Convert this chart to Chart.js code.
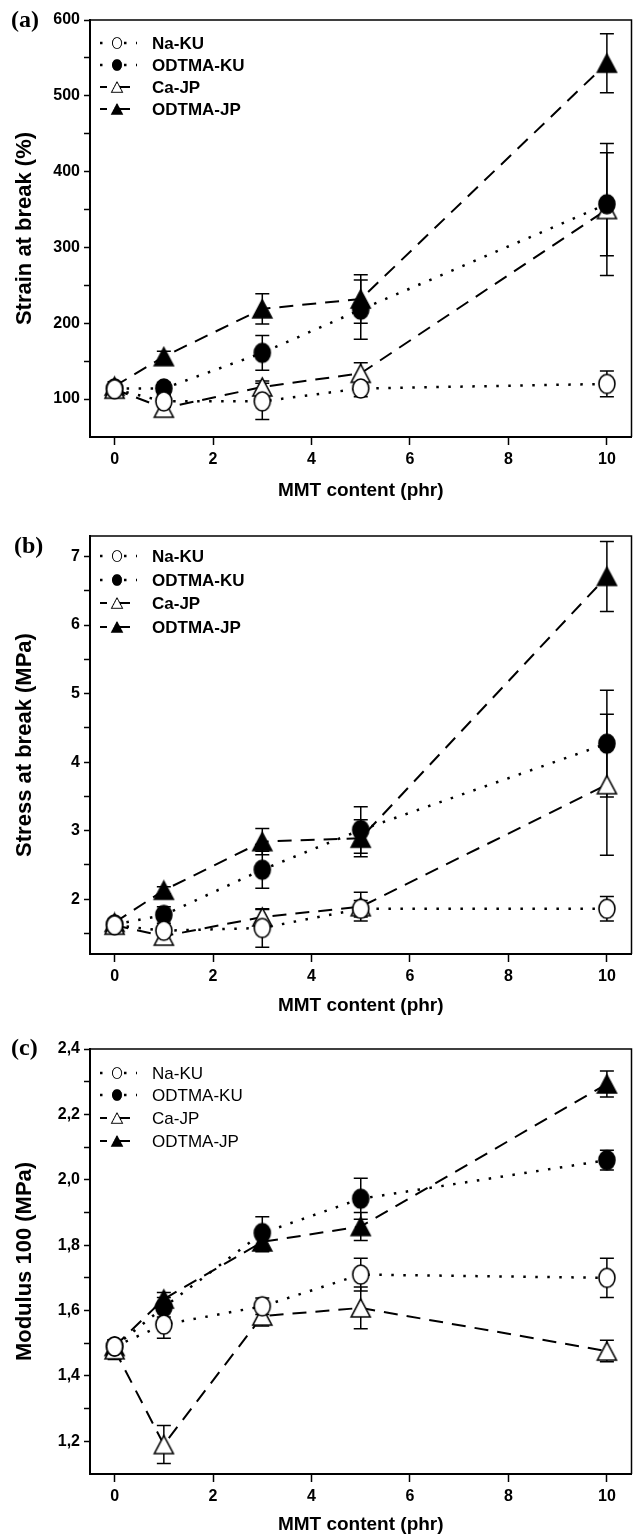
<!DOCTYPE html>
<html><head><meta charset="utf-8">
<script src="https://cdn.jsdelivr.net/npm/chart.js@4.4.0/dist/chart.umd.min.js"></script>
<style>
html,body{margin:0;padding:0;background:#fff;}
#wrap{position:relative;width:643px;height:1536px;overflow:hidden;background:#fff;}
canvas{position:absolute;left:0;}
</style></head><body><div id="wrap">
<canvas id="ca" width="643" height="510" style="top:0px;width:643px;height:510px"></canvas>
<canvas id="cb" width="643" height="530" style="top:500px;width:643px;height:530px"></canvas>
<canvas id="cc" width="643" height="516" style="top:1020px;width:643px;height:516px"></canvas>
</div>
<script>
// ---------- data ----------
const mmt = [0, 1, 3, 5, 10];
const seriesNames = ['Na-KU', 'ODTMA-KU', 'Ca-JP', 'ODTMA-JP'];
const xTicks = [0, 2, 4, 6, 8, 10];

// (a) Strain at break (%)
const strainNaKU       = [113, 97, 97, 114, 120];
const strainNaKUErr    = [5, 7, 24, 11, 17];
const strainOdtmaKU    = [114, 114, 161, 218, 357];
const strainOdtmaKUErr = [5, 8, 23, 39, 68];
const strainCaJP       = [113, 88, 116, 134, 350];
const strainCaJPErr    = [5, 6, 8, 14, 87];
const strainOdtmaJP    = [117, 156, 219, 232, 543];
const strainOdtmaJPErr = [6, 7, 20, 32, 39];
const strainTicks      = [100, 150, 200, 250, 300, 350, 400, 450, 500, 550, 600];
const strainTickLabels = ['100', '', '200', '', '300', '', '400', '', '500', '', '600'];

// (b) Stress at break (MPa)
const stressNaKU       = [1.62, 1.54, 1.58, 1.86, 1.86];
const stressNaKUErr    = [0.05, 0.07, 0.28, 0.12, 0.18];
const stressOdtmaKU    = [1.63, 1.77, 2.43, 3.01, 4.27];
const stressOdtmaKUErr = [0.05, 0.12, 0.27, 0.34, 0.78];
const stressCaJP       = [1.62, 1.46, 1.74, 1.89, 3.67];
const stressCaJPErr    = [0.05, 0.06, 0.11, 0.21, 1.03];
const stressOdtmaJP    = [1.66, 2.13, 2.84, 2.89, 6.71];
const stressOdtmaJPErr = [0.05, 0.05, 0.19, 0.27, 0.51];
const stressTicks      = [1.5, 2, 2.5, 3, 3.5, 4, 4.5, 5, 5.5, 6, 6.5, 7];
const stressTickLabels = ['', '2', '', '3', '', '4', '', '5', '', '6', '', '7'];

// (c) Modulus 100 (MPa)
const modNaKU       = [1.49, 1.557, 1.613, 1.71, 1.70];
const modNaKUErr    = [0.02, 0.042, 0.025, 0.05, 0.06];
const modOdtmaKU    = [1.49, 1.61, 1.837, 1.942, 2.06];
const modOdtmaKUErr = [0.02, 0.03, 0.05, 0.063, 0.03];
const modCaJP       = [1.48, 1.19, 1.583, 1.608, 1.476];
const modCaJPErr    = [0.03, 0.058, 0.03, 0.064, 0.033];
const modOdtmaJP    = [1.49, 1.635, 1.81, 1.857, 2.293];
const modOdtmaJPErr = [0.02, 0.02, 0.03, 0.043, 0.04];
const modTicks      = [1.2, 1.3, 1.4, 1.5, 1.6, 1.7, 1.8, 1.9, 2.0, 2.1, 2.2, 2.3, 2.4];
const modTickLabels = ['1,2', '', '1,4', '', '1,6', '', '1,8', '', '2,0', '', '2,2', '', '2,4'];

// ---------- styling ----------
const FAM = "'Liberation Sans', Arial, sans-serif";
function marker(shape, filled, w, h) {
  const pad = 2, c = document.createElement('canvas');
  c.width = w + pad * 2; c.height = h + pad * 2;
  const g = c.getContext('2d');
  g.lineWidth = 1.6; g.strokeStyle = '#000'; g.fillStyle = filled ? '#000' : '#fff';
  g.beginPath();
  if (shape === 'circle') g.ellipse(c.width / 2, c.height / 2, w / 2, h / 2, 0, 0, Math.PI * 2);
  else { g.moveTo(c.width / 2, pad); g.lineTo(pad + w, pad + h); g.lineTo(pad, pad + h); g.closePath(); }
  g.fill(); g.stroke();
  return c;
}
const styles = [
  { dash: [2.5, 9.5], width: 2.5, legendOffset: 0, marker: marker('circle', false, 16, 19) },
  { dash: [2.5, 9.5], width: 2.5, legendOffset: 0, marker: marker('circle', true, 16, 19) },
  { dash: [14, 9], width: 2, legendOffset: 7, marker: marker('tri', false, 19, 18) },
  { dash: [14, 9], width: 2, legendOffset: 7, marker: marker('tri', true, 19, 18) }
];

const errorBarPlugin = {
  id: 'errorBars',
  beforeDatasetsDraw(chart) {
    const ctx = chart.ctx, xs = chart.scales.x, ys = chart.scales.y;
    ctx.save(); ctx.strokeStyle = '#000'; ctx.lineWidth = 1.5; ctx.setLineDash([]);
    chart.data.datasets.forEach(ds => {
      ds.data.forEach((p, i) => {
        const e = ds.errors[i];
        const px = xs.getPixelForValue(p.x);
        const t = ys.getPixelForValue(p.y + e), b = ys.getPixelForValue(p.y - e);
        ctx.beginPath();
        ctx.moveTo(px, t); ctx.lineTo(px, b);
        ctx.moveTo(px - 7, t); ctx.lineTo(px + 7, t);
        ctx.moveTo(px - 7, b); ctx.lineTo(px + 7, b);
        ctx.stroke();
      });
    });
    ctx.restore();
  }
};

const decorPlugin = {
  id: 'decor',
  afterDraw(chart, args, opts) {
    const ctx = chart.ctx, a = chart.chartArea;
    ctx.save();
    ctx.strokeStyle = '#000'; ctx.fillStyle = '#000'; ctx.lineWidth = 1.5; ctx.setLineDash([]);
    ctx.beginPath(); ctx.moveTo(a.left, a.top); ctx.lineTo(a.right, a.top); ctx.lineTo(a.right, a.bottom); ctx.stroke();
    ctx.font = "bold 24px 'Liberation Serif', 'Times New Roman', serif";
    ctx.textBaseline = 'middle'; ctx.textAlign = 'left';
    ctx.fillText(opts.panel, opts.panelX, opts.panelY);
    chart.data.datasets.forEach((ds, k) => {
      const y = opts.legendY[k];
      ctx.lineWidth = ds.borderWidth; ctx.setLineDash(ds.borderDash);
      ctx.lineDashOffset = styles[k].legendOffset;
      ctx.beginPath(); ctx.moveTo(100, y); ctx.lineTo(137, y); ctx.stroke();
      ctx.setLineDash([]); ctx.lineDashOffset = 0;
      const m = ds.pointStyle, s = 0.58;
      ctx.drawImage(m, 117 - m.width * s / 2, y - m.height * s / 2, m.width * s, m.height * s);
      ctx.font = opts.legendFont;
      ctx.fillText(ds.label, 152, y + 1);
    });
    ctx.restore();
  }
};

function buildChart(id, cfg) {
  const H = cfg.height;
  const datasets = cfg.series.map((s, k) => ({
    label: seriesNames[k],
    data: mmt.map((x, i) => ({ x: x, y: s[0][i] })),
    errors: s[1],
    showLine: true,
    borderColor: '#000', backgroundColor: '#000',
    borderWidth: styles[k].width, borderDash: styles[k].dash,
    pointStyle: styles[k].marker, pointRadius: 9, pointHoverRadius: 9,
    tension: 0, fill: false
  }));
  return new Chart(document.getElementById(id), {
    type: 'scatter',
    data: { datasets },
    plugins: [errorBarPlugin, decorPlugin],
    options: {
      responsive: false, animation: false, devicePixelRatio: 1,
      layout: { padding: { top: cfg.plotTop, right: cfg.right, left: 0, bottom: 0 } },
      plugins: {
        legend: { display: false }, tooltip: { enabled: false },
        decor: { panel: cfg.panel, panelX: cfg.panelX, panelY: cfg.panelY, legendY: cfg.legendY, legendFont: cfg.legendFont }
      },
      scales: {
        x: {
          type: 'linear', min: -0.5, max: 10.5,
          afterBuildTicks: sc => { sc.ticks = xTicks.map(v => ({ value: v })); },
          afterFit: sc => { sc.height = H - cfg.plotBottom; },
          ticks: { font: { family: FAM, weight: 'bold', size: 16 }, color: '#000', padding: 5, maxRotation: 0, autoSkip: false, callback: v => String(v) },
          grid: { drawOnChartArea: false, drawTicks: true, tickLength: 8, color: '#000', tickColor: '#000', tickWidth: 1.5 },
          border: { display: true, color: '#000', width: 2 },
          title: { display: true, text: 'MMT content (phr)', color: '#000', font: { family: FAM, weight: 'bold', size: 19 }, padding: { top: 0, bottom: cfg.xTitlePad } }
        },
        y: {
          type: 'linear', min: cfg.yMin, max: cfg.yMax,
          afterBuildTicks: sc => { sc.ticks = cfg.ticks.map(v => ({ value: v })); },
          afterFit: sc => { sc.width = 90; },
          ticks: { font: { family: FAM, weight: 'bold', size: 16 }, color: '#000', padding: 4, autoSkip: false, callback: (v, i) => cfg.tickLabels[i] },
          grid: { drawOnChartArea: false, drawTicks: true, tickLength: 6, color: '#000', tickColor: '#000', tickWidth: 1.5 },
          border: { display: true, color: '#000', width: 2 },
          title: { display: true, text: cfg.yTitle, color: '#000', font: { family: FAM, weight: 'bold', size: 22 }, padding: { top: 12, bottom: 0 } }
        }
      }
    }
  });
}

buildChart('ca', {
  height: 510, plotTop: 20, plotBottom: 437, right: 8, xTitlePad: 8,
  yMin: 50, yMax: 600, ticks: strainTicks, tickLabels: strainTickLabels, yTitle: 'Strain at break (%)',
  series: [[strainNaKU, strainNaKUErr], [strainOdtmaKU, strainOdtmaKUErr], [strainCaJP, strainCaJPErr], [strainOdtmaJP, strainOdtmaJPErr]],
  panel: '(a)', panelX: 11, panelY: 21, legendY: [43, 65, 87, 109], legendFont: "bold 17px " + FAM
});
buildChart('cb', {
  height: 530, plotTop: 36, plotBottom: 454, right: 8, xTitlePad: 13,
  yMin: 1.2, yMax: 7.3, ticks: stressTicks, tickLabels: stressTickLabels, yTitle: 'Stress at break (MPa)',
  series: [[stressNaKU, stressNaKUErr], [stressOdtmaKU, stressOdtmaKUErr], [stressCaJP, stressCaJPErr], [stressOdtmaJP, stressOdtmaJPErr]],
  panel: '(b)', panelX: 14, panelY: 47, legendY: [56, 80, 103, 127], legendFont: "bold 17px " + FAM
});
buildChart('cc', {
  height: 516, plotTop: 29, plotBottom: 454, right: 1, xTitlePad: 0,
  yMin: 1.1, yMax: 2.4, ticks: modTicks, tickLabels: modTickLabels, yTitle: 'Modulus 100 (MPa)',
  series: [[modNaKU, modNaKUErr], [modOdtmaKU, modOdtmaKUErr], [modCaJP, modCaJPErr], [modOdtmaJP, modOdtmaJPErr]],
  panel: '(c)', panelX: 11, panelY: 29, legendY: [53, 75, 98, 121], legendFont: "17px " + FAM
});
</script>
</body></html>
